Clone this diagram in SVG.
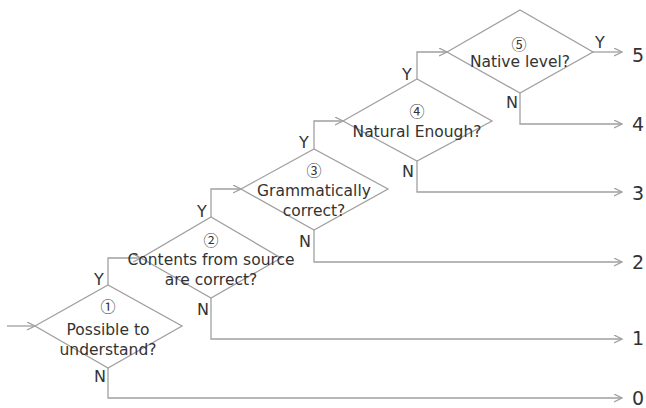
<svg xmlns="http://www.w3.org/2000/svg" width="646" height="408" viewBox="0 0 646 408">
<defs>
<marker id="arr" markerUnits="userSpaceOnUse" markerWidth="10" markerHeight="10" refX="8" refY="4" orient="auto">
<path d="M0,0 L8,4 L0,8" fill="none" stroke="#a0a0a0" stroke-width="1.3"/>
</marker>
</defs>
<style>
.d{fill:#fff;stroke:#a0a0a0;stroke-width:1.3}
.c{fill:none;stroke:#a0a0a0;stroke-width:1.3;marker-end:url(#arr)}
text{font-family:"DejaVu Sans","Noto Sans CJK JP",sans-serif;fill:#333}
.t{font-size:15.5px;text-anchor:middle}
text.o{font-family:"Noto Sans CJK JP",sans-serif;font-size:15px;text-anchor:middle}
.l{font-size:16px;text-anchor:middle}
.n{font-size:19px}
</style>
<g id="connectors">
<path class="c" d="M7,326 H35"/>
<path class="c" d="M108,285 V258 H141"/>
<path class="c" d="M108,368 V398 H622"/>
<path class="c" d="M211,217 V189 H241"/>
<path class="c" d="M211,298 V339 H622"/>
<path class="c" d="M314,149 V121 H343"/>
<path class="c" d="M314,230 V262 H622"/>
<path class="c" d="M417,79 V52 H447"/>
<path class="c" d="M417,161 V192 H622"/>
<path class="c" d="M593,52 H622"/>
<path class="c" d="M520,93 V124 H622"/>
</g>
<g id="d1">
<polygon class="d" points="35,326 108,285 182,326 108,368"/>
<text class="o" x="108" y="312">①</text>
<text class="t" x="108" y="335">Possible to</text>
<text class="t" x="108" y="355">understand?</text>
</g>
<g id="d2">
<polygon class="d" points="141,258 211,217 281,258 211,298"/>
<text class="o" x="211" y="246">②</text>
<text class="t" x="211" y="265">Contents from source</text>
<text class="t" x="211" y="285">are correct?</text>
</g>
<g id="d3">
<polygon class="d" points="241,189 314,149 388,189 314,230"/>
<text class="o" x="314" y="176">③</text>
<text class="t" x="314" y="196">Grammatically</text>
<text class="t" x="314" y="216">correct?</text>
</g>
<g id="d4">
<polygon class="d" points="343,121 417,79 492,121 417,161"/>
<text class="o" x="417" y="117">④</text>
<text class="t" x="417" y="137">Natural Enough?</text>
</g>
<g id="d5">
<polygon class="d" points="447,52 520,10 593,52 520,93"/>
<text class="o" x="519" y="50">⑤</text>
<text class="t" x="520" y="67">Native level?</text>
</g>
<g id="labels">
<text class="l" x="99" y="285">Y</text>
<text class="l" x="202" y="217">Y</text>
<text class="l" x="304" y="148">Y</text>
<text class="l" x="407" y="80">Y</text>
<text class="l" x="600" y="48">Y</text>
<text class="l" x="100" y="382">N</text>
<text class="l" x="203" y="315">N</text>
<text class="l" x="305" y="247">N</text>
<text class="l" x="408" y="177">N</text>
<text class="l" x="512" y="108">N</text>
<text class="n" x="632" y="62">5</text>
<text class="n" x="632" y="131">4</text>
<text class="n" x="632" y="200">3</text>
<text class="n" x="632" y="269">2</text>
<text class="n" x="632" y="345">1</text>
<text class="n" x="632" y="405">0</text>
</g>
</svg>
